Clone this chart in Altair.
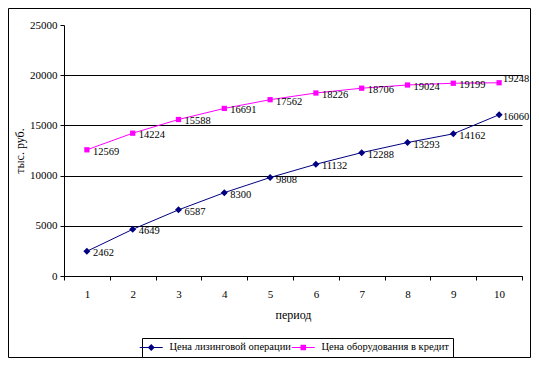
import altair as alt
import pandas as pd

periods = list(range(1, 11))
leasing = [2462, 4649, 6587, 8300, 9808, 11132, 12288, 13293, 14162, 16060]
credit = [12569, 14224, 15588, 16691, 17562, 18226, 18706, 19024, 19199, 19248]
series_names = ["Цена лизинговой операции", "Цена оборудования в кредит"]
y_ticks = [0, 5000, 10000, 15000, 20000, 25000]

df = pd.DataFrame({
    "period": periods * 2,
    "value": leasing + credit,
    "series": [series_names[0]] * len(leasing) + [series_names[1]] * len(credit),
})

FONT = "Liberation Serif"
colors = ["#000080", "#FF00FF"]
marker_paths = ["M0,-1L1,0L0,1L-1,0Z", "M-0.75,-0.75H0.75V0.75H-0.75Z"]
legend_paths = [
    "M-2.3,-0.1H2.3V0.1H-2.3Z M0,-0.7L0.7,0L0,0.7L-0.7,0Z",
    "M-2.3,-0.1H2.3V0.1H-2.3Z M-0.55,-0.55H0.55V0.55H-0.55Z",
]

PAD_L, PAD_T, W, H = 56, 17, 458, 251

x = alt.X(
    "period:O",
    scale=alt.Scale(type="band", paddingInner=0, paddingOuter=0),
    axis=alt.Axis(
        title="период", labelAngle=0, tickBand="extent", grid=False,
        domainColor="black", tickColor="black", tickSize=4,
        labelFont=FONT, labelFontSize=11, labelColor="black", labelPadding=8,
        titleFont=FONT, titleFontSize=12, titleFontWeight="normal",
        titleColor="black", titlePadding=10,
    ),
)
y = alt.Y(
    "value:Q",
    scale=alt.Scale(domain=[0, 25000], nice=False),
    axis=alt.Axis(
        values=y_ticks, format="d", title="тыс. руб.", grid=True, gridColor="black",
        gridOpacity={"condition": {"test": "datum.value === 25000", "value": 0}, "value": 1},
        domainColor="black", tickColor="black", tickSize=4,
        labelFont=FONT, labelFontSize=11, labelColor="black", labelPadding=3,
        titleFont=FONT, titleFontSize=12, titleFontWeight="normal",
        titleColor="black", titlePadding=3,
    ),
)
color_scale = alt.Scale(domain=series_names, range=colors)

legend = alt.Legend(
    orient="none", legendX=78, legendY=313, direction="horizontal", title=None,
    strokeColor="black", fillColor="white", padding=4,
    symbolSize=100, symbolOpacity=1, symbolStrokeWidth=0,
    labelFont=FONT, labelFontSize=10.5, labelColor="black", labelOffset=13,
    columnPadding=0,
)

border = alt.Chart(alt.Data(values=[{}])).mark_rect(
    fillOpacity=0, stroke="black", strokeWidth=1
).encode(
    x=alt.value(0.5 - PAD_L), x2=alt.value(522.5 - PAD_L),
    y=alt.value(0.5 - PAD_T), y2=alt.value(349.5 - PAD_T),
)

lines = alt.Chart(df).mark_line(strokeWidth=1).encode(
    x=x, y=y, color=alt.Color("series:N", scale=color_scale, legend=None)
)
points = alt.Chart(df).mark_point(filled=True, opacity=1, size=49).encode(
    x=x, y=y,
    color=alt.Color("series:N", scale=color_scale, legend=None),
    shape=alt.Shape("series:N", scale=alt.Scale(domain=series_names, range=marker_paths), legend=None),
)
legend_layer = alt.Chart(df).mark_point(filled=True, opacity=0).encode(
    x=x, y=y,
    color=alt.Color("series:N", scale=color_scale, legend=legend),
    shape=alt.Shape("series:N", scale=alt.Scale(domain=series_names, range=legend_paths), legend=legend),
)

text_style = dict(align="left", baseline="middle", font=FONT, fontSize=10.5, color="black")
labels_main = alt.Chart(df).transform_filter("datum.period < 10").mark_text(
    dx=6, dy=2, **text_style
).encode(x=x, y=y, text=alt.Text("value:Q", format="d"))
labels_last_a = alt.Chart(df).transform_filter(
    f"datum.period === 10 && datum.series === '{series_names[0]}'"
).mark_text(dx=4, dy=2, **text_style).encode(
    x=x, y=y, text=alt.Text("value:Q", format="d")
)
labels_last_b = alt.Chart(df).transform_filter(
    f"datum.period === 10 && datum.series === '{series_names[1]}'"
).mark_text(dx=4, dy=-4, **text_style).encode(
    x=x, y=y, text=alt.Text("value:Q", format="d")
)

chart = alt.layer(
    border, lines, points, legend_layer, labels_main, labels_last_a, labels_last_b
).resolve_scale(
    color="independent", shape="independent"
).properties(
    width=W, height=H,
    autosize=alt.AutoSizeParams(type="none"),
    padding={"left": PAD_L, "top": PAD_T, "right": 523 - PAD_L - W, "bottom": 350 - PAD_T - H},
    background="white",
).configure_view(strokeWidth=0)

chart.save("out.html", embed_options={"renderer": "svg", "actions": False})
